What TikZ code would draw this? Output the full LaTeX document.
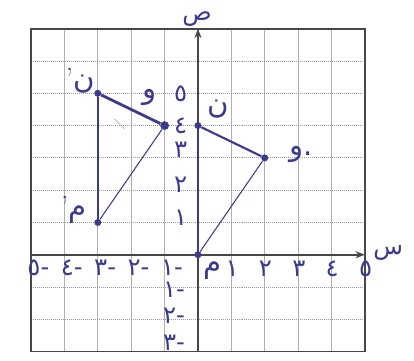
\documentclass[tikz,border=0pt]{standalone}
\usepackage{fontspec}
\newfontfamily\arabicfont[Script=Arabic]{DejaVu Sans}
\TeXXeTstate=1
\usetikzlibrary{arrows.meta}
\definecolor{ink}{HTML}{3B3B8C}
\definecolor{gridcolor}{HTML}{9C9C9C}
\definecolor{axiscolor}{HTML}{474747}

\begin{document}
\begin{tikzpicture}[
    x=1cm, y=0.967cm,
    every node/.style={font=\arabicfont\Large, text=ink, inner sep=1pt},
    num/.style={font=\arabicfont\huge, text=ink},
    vlab/.style={font=\arabicfont\Huge, text=ink},
    alab/.style={font=\arabicfont\huge, text=ink},
    pt/.style={circle, fill=ink, inner sep=0pt, minimum size=6pt},
    vgrid/.style={gridcolor!80, line width=0.6pt},
    hgrid/.style={gridcolor, line width=0.7pt, densely dotted},
    frame/.style={axiscolor, line width=1.5pt},
    axis/.style={axiscolor, line width=1.4pt, -{Stealth[length=8pt, width=6pt]}},
    heavy/.style={ink, line width=2.4pt},
    mid/.style={ink, line width=1.8pt},
    light/.style={ink, line width=0.9pt},
]
\useasboundingbox (-5.93,-3.28) rectangle (6.47,7.89);

% ============================================================ squared paper
\foreach \x in {-4,...,4}{
    \draw[vgrid] (\x,-3) -- (\x,7);
}
\foreach \y in {-2,...,6}{
    \draw[hgrid] (-5,\y) -- (5,\y);
}
\draw[frame] (-5,-3) rectangle (5,7);

% axes
\coordinate (xs) at (-5,0);
\coordinate (xe) at (5,0);
\coordinate (ys) at (0,-3);
\coordinate (ye) at (0,7);
\draw[axis] (xs) -- (xe);
\draw[axis] (ys) -- (ye);
\node[alab] (xlab) at (5.70,0.05) {\beginR س\endR};
\node[alab] (ylab) at (-0.03,7.30) {\beginR ص\endR};

% numbers along the axes
\foreach \k/\d in {1/١, 2/٢, 3/٣, 4/٤, 5/٥}{
    \node[num] (xp\k) at (\k+0.02,-0.45) {\d};
}
\foreach \k/\d in {1/١, 2/٢, 3/٣, 4/٤, 5/٥}{
    \node[num] (xn\k) at (-\k+0.22,-0.40) {-\d};
}
\foreach \k/\d/\h in {1/١/1.15, 2/٢/2.17, 3/٣/3.25, 4/٤/4.00, 5/٥/5.00}{
    \node[num] (yp\k) at (-0.52,\h) {\d};
}
\foreach \k/\d/\h in {1/١/-1.08, 2/٢/-1.88, 3/٣/-2.72}{
    \node[num] (yn\k) at (-0.72,\h) {-\d};
}

% ============================================================ the first triangle
\node[pt] (A) at (0,0) {};
\node[pt] (B) at (0,4) {};
\node[pt] (C) at (2,3) {};
\draw[heavy] (A) -- (B);
\draw[mid] (B) -- (C);
\draw[light] (C) -- (A);
\node[vlab] (lA) at (0.45,-0.50) {\beginR م\endR};
\node[vlab] (lB) at (0.60,4.50) {\beginR ن\endR};
\node[vlab] (lC) at (3.10,3.10) {\beginR و\endR.};

% ============================================================ its image, moved
\node[pt] (A1) at (-3,1) {};
\node[pt] (B1) at (-3,5) {};
\node[pt, minimum size=7.5pt] (C1) at (-1,4) {};
\draw[mid] (A1) -- (B1);
\draw[heavy] (B1) -- (C1);
\draw[light] (C1) -- (A1);
\node[vlab] (lA1) at (-3.72,1.40) {{\rmfamily '}\beginR م\endR};
\node[vlab] (lB1) at (-3.53,5.40) {{\rmfamily '}\beginR ن\endR};
\node[vlab] (lC1) at (-1.44,4.86) {\beginR و\endR};

% faint pencil mark
\draw[ink!35, line width=0.8pt] (-2.50,4.20) -- (-2.20,3.90);

\end{tikzpicture}
\end{document}
